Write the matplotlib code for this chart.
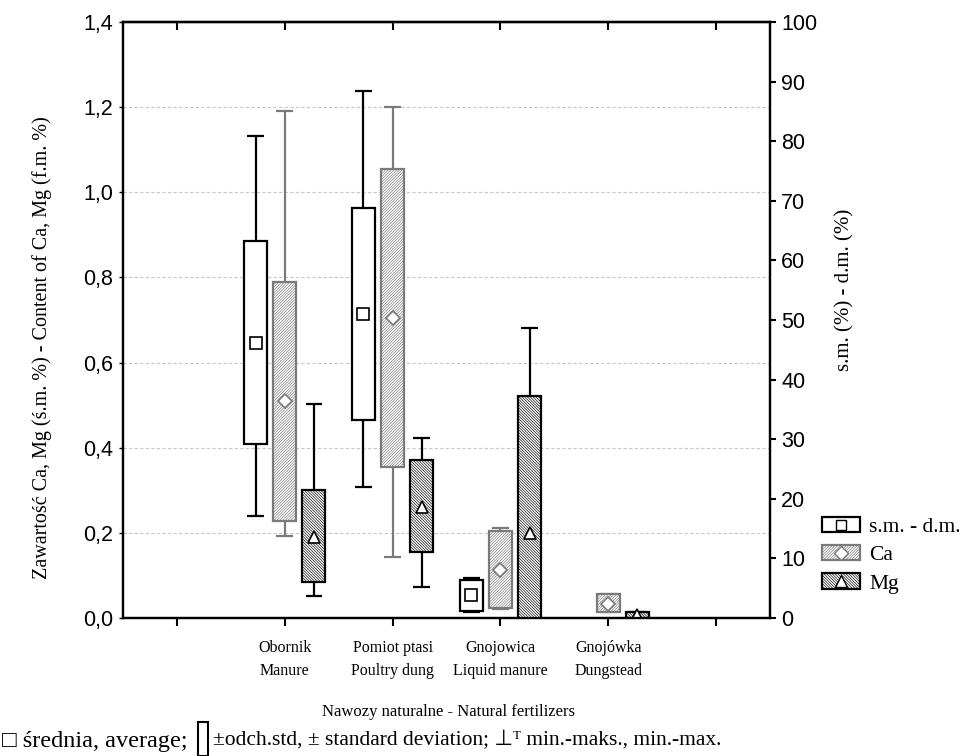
import numpy as np
import matplotlib.pyplot as plt
from matplotlib.patches import Patch, Rectangle
from matplotlib.lines import Line2D

# fertilizer types
categories = ['Obornik\nManure', 'Pomiot ptasi\nPoultry dung',
              'Gnojowica\nLiquid manure', 'Gnojówka\nDungstead']

# dry matter s.m. - d.m. (%), right axis
sm_mean = [46.2, 51.0, 3.9, np.nan]
sm_sd_lo = [29.2, 33.2, 1.2, np.nan]
sm_sd_hi = [63.2, 68.8, 6.3, np.nan]
sm_min = [17.1, 22.0, 0.95, np.nan]
sm_max = [80.9, 88.4, 6.7, np.nan]

# Ca (%), left axis
ca_mean = [0.510, 0.705, 0.113, 0.034]
ca_sd_lo = [0.228, 0.354, 0.023, 0.013]
ca_sd_hi = [0.790, 1.054, 0.204, 0.056]
ca_min = [0.193, 0.143, 0.020, 0.013]
ca_max = [1.191, 1.201, 0.211, 0.056]

# Mg (%), left axis
mg_mean = [0.191, 0.261, 0.199, 0.006]
mg_sd_lo = [0.084, 0.154, -0.123, 0.0]
mg_sd_hi = [0.301, 0.370, 0.521, 0.013]
mg_min = [0.052, 0.072, 0.010, 0.0]
mg_max = [0.502, 0.422, 0.681, 0.013]

plt.rcParams['font.family'] = ['Liberation Serif', 'DejaVu Sans']
plt.rcParams['hatch.linewidth'] = 0.45

W, H = 965, 756
fig = plt.figure(figsize=(W/100, H/100), dpi=100)
ax = fig.add_axes([123/W, 1-618/H, (770-123)/W, (618-22)/H])
ax2 = ax.twinx()

pos = np.arange(2, 2+len(categories))
off = 0.27
bw = 0.215
capw = 0.155

GRAY = '#7a7a7a'
CA_HATCH = '/' * 12
MG_HATCH = '\\' * 12


def draw(a, xs, mean, lo, hi, mn, mx, ec, hatch, marker, ms):
    mean, lo, hi, mn, mx = map(np.asarray, (mean, lo, hi, mn, mx))
    ok = ~np.isnan(mean)
    xs = xs[ok]
    a.vlines(xs, mn[ok], mx[ok], color=ec, lw=1.6, zorder=3)
    a.hlines(np.r_[mn[ok], mx[ok]], np.r_[xs, xs]-capw/2, np.r_[xs, xs]+capw/2,
             color=ec, lw=1.6, zorder=3)
    a.bar(xs, hi[ok]-lo[ok], bw, bottom=lo[ok], facecolor='white',
          edgecolor=ec, hatch=hatch, lw=1.6, zorder=4)
    a.plot(xs, mean[ok], ls='none', marker=marker, ms=ms, mfc='white',
           mec=ec, mew=1.2, zorder=5)


draw(ax, pos, ca_mean, ca_sd_lo, ca_sd_hi, ca_min, ca_max, GRAY, CA_HATCH, 'D', 7.5)
draw(ax, pos+off, mg_mean, mg_sd_lo, mg_sd_hi, mg_min, mg_max, 'black', MG_HATCH, '^', 9)
draw(ax2, pos-off, sm_mean, sm_sd_lo, sm_sd_hi, sm_min, sm_max, 'black', None, 's', 8.5)

ax.set_xlim(0.5, 6.5)
ax.set_xticks(np.arange(1, 7))
ax.set_xticklabels([''] + categories + [''], fontsize=11.5, linespacing=1.55)
ax.set_ylim(0, 1.4)
ax.set_yticks(np.arange(0, 1.41, 0.2))
ax.yaxis.set_major_formatter(plt.FuncFormatter(lambda v, p: '{:.1f}'.format(v).replace('.', ',')))
ax2.set_ylim(0, 100)
ax2.set_yticks(np.arange(0, 101, 10))

for lab in ax.get_yticklabels() + ax2.get_yticklabels():
    lab.set_fontfamily('Liberation Sans')
    lab.set_fontsize(15.5)

ax.tick_params(axis='x', which='both', top=False, direction='out', length=6, width=1.5, pad=10)
top = ax.secondary_xaxis('top')
top.set_xticks(np.arange(1, 7))
top.set_xticklabels([])
top.tick_params(direction='in', length=6, width=1.5)
top.spines['top'].set_linewidth(1.6)
ax.tick_params(axis='y', direction='out', length=3, width=1, pad=4)
ax2.tick_params(axis='y', direction='out', length=4, width=1.5, pad=4)

for a in (ax, ax2):
    for s in a.spines.values():
        s.set_linewidth(1.6)

ax.grid(True, axis='y', ls=(0, (3, 2)), lw=0.8, color='#c8c8c8', zorder=0)
ax.set_axisbelow(True)

fig.text(42/W, 1-348/H, 'Zawartość Ca, Mg (ś.m. %) - Content of Ca, Mg (f.m. %)',
         rotation=90, ha='center', va='center', fontsize=14.5)
fig.text(845/W, 1-290/H, 's.m. (%) - d.m. (%)', rotation=90,
         ha='center', va='center', fontsize=15)
fig.text(448/W, 1-712/H, 'Nawozy naturalne - Natural fertilizers',
         ha='center', va='center', fontsize=12)

# legend
handles = [
    (Patch(facecolor='white', edgecolor='black', lw=1.6),
     Line2D([], [], ls='none', marker='s', ms=7.5, mfc='white', mec='black')),
    (Patch(facecolor='white', edgecolor=GRAY, hatch=CA_HATCH, lw=1.6),
     Line2D([], [], ls='none', marker='D', ms=7, mfc='white', mec=GRAY)),
    (Patch(facecolor='white', edgecolor='black', hatch=MG_HATCH, lw=1.6),
     Line2D([], [], ls='none', marker='^', ms=8, mfc='white', mec='black')),
]
fig.legend(handles, ['s.m. - d.m.', 'Ca', 'Mg'], loc='upper left',
           bbox_to_anchor=(822/W, 1-517/H), frameon=False, fontsize=15.5,
           handlelength=1.75, handleheight=0.7, handletextpad=0.45,
           labelspacing=0.38, borderpad=0, borderaxespad=0)

# footer note
fig.text(2/W, 1-741/H, '□ średnia, average;', ha='left', va='center', fontsize=17.5)
fig.add_artist(Rectangle((198/W, 0), 10/W, (756-722)/H, transform=fig.transFigure,
                         fill=False, lw=1.5, ec='black'))
fig.text(213/W, 1-741/H, '±odch.std, ± standard deviation; ⊥ᵀ min.-maks., min.-max.',
         ha='left', va='center', fontsize=15.5)

fig.savefig('out.png', dpi=100)
